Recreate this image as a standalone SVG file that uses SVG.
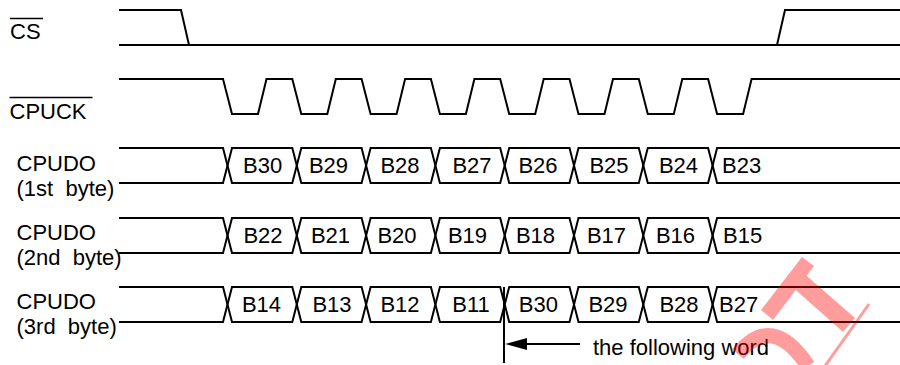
<svg xmlns="http://www.w3.org/2000/svg" xmlns:xlink="http://www.w3.org/1999/xlink" width="900" height="365" viewBox="0 0 900 365">
<style>
.w{fill:none;stroke:#000;stroke-width:2;stroke-linejoin:miter}
.ov{stroke:#000;stroke-width:1.5}
.t{font-family:"Liberation Sans",Arial,sans-serif;font-size:22px;fill:#000}
.m{text-anchor:middle}
</style>
<defs>
<g id="bus">
<polyline class="w" points="119,0 223,0 232,35 292.3,35 301.3,0 361.6,0 370.6,35 430.9,35 439.9,0 500.2,0 509.2,35 569.5,35 578.5,0 638.8,0 647.8,35 708.1,35 717.1,0 900,0"/>
<polyline class="w" points="119,35 223,35 232,0 292.3,0 301.3,35 361.6,35 370.6,0 430.9,0 439.9,35 500.2,35 509.2,0 569.5,0 578.5,35 638.8,35 647.8,0 708.1,0 717.1,35 900,35"/>
</g>
<marker id="ah" viewBox="0 0 22 12" refX="0" refY="6" markerWidth="22" markerHeight="12" markerUnits="userSpaceOnUse" orient="auto">
<polygon points="0,6 22,0 22,12" fill="#000"/>
</marker>
</defs>
<rect width="900" height="365" fill="#fff"/>

<g id="cs">
<polyline class="w" points="119,10 181,10 189,45"/>
<line class="w" x1="119" y1="45" x2="900" y2="45"/>
<polyline class="w" points="777,45 785,10 900,10"/>
<text class="t" x="10" y="39">CS</text>
<line class="ov" x1="10" y1="18.5" x2="43" y2="18.5"/>
</g>

<g id="cpuck">
<polyline class="w" points="119,79 223,79 232,114 258,114 266.5,79 292.3,79 301.3,114 327.3,114 335.8,79 361.6,79 370.6,114 396.6,114 405.1,79 430.9,79 439.9,114 465.9,114 474.4,79 500.2,79 509.2,114 535.2,114 543.7,79 569.5,79 578.5,114 604.5,114 613,79 638.8,79 647.8,114 673.8,114 682.3,79 708.1,79 717.1,114 743.1,114 751.6,79 900,79"/>
<text class="t" x="9.5" y="118.5">CPUCK</text>
<line class="ov" x1="9.5" y1="97.5" x2="92.5" y2="97.5"/>
</g>

<g id="cpudo1">
<use xlink:href="#bus" href="#bus" transform="translate(0,148)"/>
<text class="t" x="16.5" y="171">CPUDO</text>
<text class="t" x="16.5" y="195.5" xml:space="preserve">(1st  byte)</text>
<text class="t m" x="262.7" y="173">B30</text>
<text class="t m" x="328.5" y="173">B29</text>
<text class="t m" x="400" y="173">B28</text>
<text class="t m" x="472" y="173">B27</text>
<text class="t m" x="538" y="173">B26</text>
<text class="t m" x="609" y="173">B25</text>
<text class="t m" x="678.5" y="173">B24</text>
<text class="t" x="722" y="173">B23</text>
</g>

<g id="cpudo2">
<use xlink:href="#bus" href="#bus" transform="translate(0,218)"/>
<text class="t" x="16.5" y="240">CPUDO</text>
<text class="t" x="16.5" y="264.5" xml:space="preserve">(2nd  byte)</text>
<text class="t m" x="263" y="243">B22</text>
<text class="t m" x="330.5" y="243">B21</text>
<text class="t m" x="397" y="243">B20</text>
<text class="t m" x="467.5" y="243">B19</text>
<text class="t m" x="535.5" y="243">B18</text>
<text class="t m" x="606.5" y="243">B17</text>
<text class="t m" x="675.5" y="243">B16</text>
<text class="t" x="723" y="243">B15</text>
</g>

<g id="cpudo3">
<use xlink:href="#bus" href="#bus" transform="translate(0,287)"/>
<text class="t" x="16.5" y="309">CPUDO</text>
<text class="t" x="16.5" y="333.5" xml:space="preserve">(3rd  byte)</text>
<text class="t m" x="261.5" y="312">B14</text>
<text class="t m" x="332" y="312">B13</text>
<text class="t m" x="400" y="312">B12</text>
<text class="t m" x="471" y="312">B11</text>
<text class="t m" x="538.3" y="312">B30</text>
<text class="t m" x="608" y="312">B29</text>
<text class="t m" x="679" y="312">B28</text>
<text class="t" x="719" y="312">B27</text>
</g>

<g id="connectors">
<line class="w" x1="504" y1="287" x2="504" y2="363"/>
<line class="w" x1="580" y1="344" x2="526" y2="344"/>
<polygon points="505,344 527,338 527,350" fill="#000"/>
<text class="t" x="593" y="355">the following word</text>
</g>

<g id="watermark" opacity="0.38">
<polygon points="761,310 802,257 814,266 773,320" fill="#f00"/>
<polygon points="788,283 800,270 855,318 843,332" fill="#f00"/>
<path d="M738,354 Q772,312 808,366" fill="none" stroke="#f00" stroke-width="15"/>
<line x1="869" y1="304" x2="825" y2="366" stroke="#f00" stroke-width="3"/>
</g>
</svg>
